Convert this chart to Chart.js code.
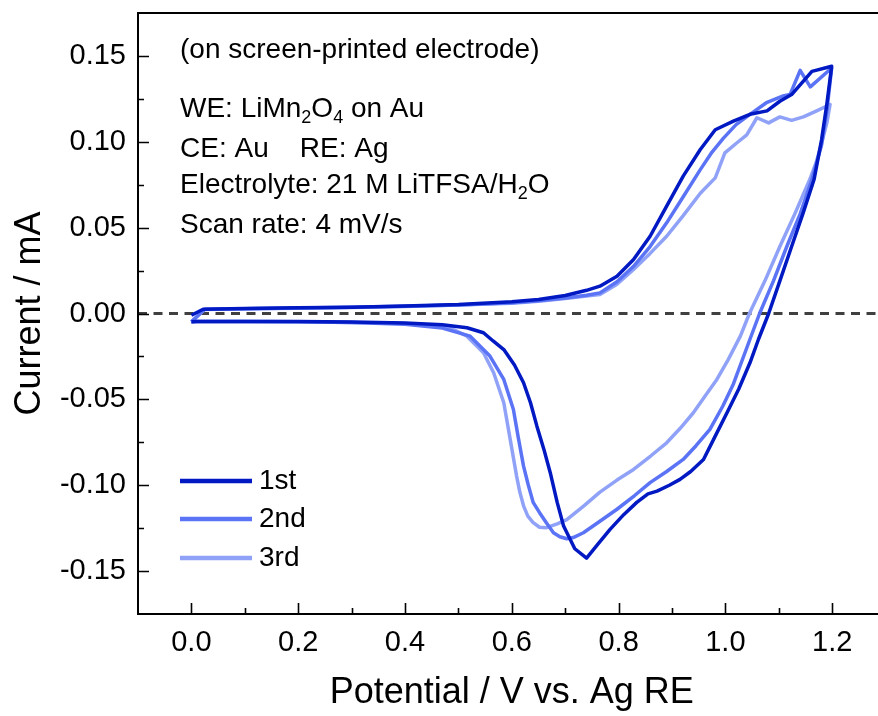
<!DOCTYPE html>
<html>
<head>
<meta charset="utf-8">
<script src="https://cdn.jsdelivr.net/npm/chart.js@4.4.1/dist/chart.umd.min.js"></script>
<style>
  html, body { margin: 0; padding: 0; background: #fff; overflow: hidden; }
  canvas { display: block; }
</style>
</head>
<body>
<canvas id="cv" width="900" height="716"></canvas>
<script>
const cycleLabels = ['1st', '2nd', '3rd'];
const cycleColors = ['#0019c2', '#5b73f5', '#8fa2f8'];

// each cycle: anodic sweep 0 -> 1.2 V, then cathodic back to 0 V
const cycle1Potential = [
  0.000, 0.022, 0.10, 0.20, 0.30, 0.40, 0.50, 0.60, 0.65, 0.70, 0.74, 0.765, 0.797, 0.828, 0.859,
  0.890, 0.921, 0.953, 0.981, 1.015, 1.046, 1.078, 1.102, 1.124, 1.162, 1.199,
  1.190, 1.180, 1.166, 1.145, 1.124, 1.102, 1.081, 1.062, 1.046, 1.025, 1.003, 0.980, 0.959,
  0.935, 0.915, 0.895, 0.872, 0.855, 0.834, 0.810, 0.784, 0.762, 0.740, 0.718, 0.697, 0.685,
  0.672, 0.660, 0.647, 0.635, 0.622, 0.605, 0.585, 0.565, 0.547, 0.516, 0.470, 0.400, 0.300,
  0.200, 0.100, 0.010, 0.000
];
const cycle1Current = [
  -0.0010, 0.0025, 0.0029, 0.0033, 0.0037, 0.0043, 0.0052, 0.0068, 0.0082, 0.0105, 0.0135, 0.0159, 0.0217, 0.0314, 0.0450,
  0.0625, 0.0800, 0.0955, 0.1070, 0.1120, 0.1160, 0.1180, 0.1236, 0.1275, 0.1410, 0.1440,
  0.1220, 0.1010, 0.0780, 0.0580, 0.0390, 0.0190, 0.0000, -0.0150, -0.0287, -0.0440, -0.0578, -0.0720, -0.0850,
  -0.0920, -0.0966, -0.1000, -0.1034, -0.1050, -0.1100, -0.1170, -0.1257, -0.1340, -0.1425, -0.1370, -0.1238, -0.1100,
  -0.0927, -0.0790, -0.0656, -0.0520, -0.0403, -0.0300, -0.0210, -0.0160, -0.0112, -0.0083, -0.0065, -0.0055, -0.0050,
  -0.0047, -0.0046, -0.0047, -0.0048
];

const cycle2Potential = [
  0.000, 0.025, 0.10, 0.20, 0.30, 0.40, 0.50, 0.60, 0.65, 0.70, 0.74, 0.765, 0.797, 0.828, 0.859,
  0.890, 0.921, 0.953, 0.975, 0.996, 1.020, 1.046, 1.078, 1.106, 1.121, 1.140, 1.159, 1.199,
  1.190, 1.180, 1.162, 1.140, 1.115, 1.090, 1.064, 1.046, 1.015, 0.995, 0.971, 0.945, 0.921,
  0.890, 0.859, 0.830, 0.797, 0.765, 0.734, 0.715, 0.703, 0.690, 0.678, 0.665, 0.652, 0.640,
  0.631, 0.622, 0.612, 0.603, 0.585, 0.559, 0.522, 0.470, 0.400, 0.300, 0.200, 0.100, 0.010, 0.000
];
const cycle2Current = [
  -0.0048, 0.0025, 0.0028, 0.0032, 0.0036, 0.0042, 0.0050, 0.0062, 0.0074, 0.0090, 0.0106, 0.0120, 0.0185, 0.0275, 0.0390,
  0.0528, 0.0680, 0.0838, 0.0940, 0.1020, 0.1100, 0.1160, 0.1230, 0.1265, 0.1275, 0.1416, 0.1320, 0.1430,
  0.1180, 0.0980, 0.0780, 0.0580, 0.0390, 0.0190, 0.0000, -0.0150, -0.0410, -0.0540, -0.0675, -0.0770, -0.0850,
  -0.0920, -0.0985, -0.1060, -0.1140, -0.1210, -0.1277, -0.1305, -0.1312, -0.1300, -0.1277, -0.1220, -0.1160, -0.1100,
  -0.1000, -0.0889, -0.0720, -0.0559, -0.0384, -0.0248, -0.0132, -0.0085, -0.0062, -0.0052, -0.0048, -0.0046, -0.0047, -0.0048
];

const cycle3Potential = [
  0.000, 0.025, 0.10, 0.20, 0.30, 0.40, 0.50, 0.60, 0.65, 0.70, 0.74, 0.765, 0.797, 0.828, 0.859,
  0.890, 0.921, 0.953, 0.981, 0.999, 1.020, 1.040, 1.059, 1.081, 1.102, 1.124, 1.146, 1.171, 1.196,
  1.190, 1.180, 1.170, 1.158, 1.130, 1.102, 1.074, 1.045, 1.028, 1.005, 0.984, 0.962, 0.940,
  0.915, 0.890, 0.860, 0.828, 0.797, 0.765, 0.735, 0.703, 0.685, 0.665, 0.652, 0.640, 0.630,
  0.622, 0.615, 0.609, 0.597, 0.585, 0.566, 0.547, 0.516, 0.484, 0.440, 0.380, 0.300, 0.200,
  0.100, 0.010, 0.000
];
const cycle3Current = [
  -0.0048, 0.0024, 0.0027, 0.0031, 0.0035, 0.0041, 0.0049, 0.0060, 0.0072, 0.0088, 0.0102, 0.0110, 0.0170, 0.0256, 0.0350,
  0.0450, 0.0570, 0.0700, 0.0790, 0.0935, 0.0990, 0.1040, 0.1140, 0.1110, 0.1145, 0.1125, 0.1145, 0.1180, 0.1217,
  0.1110, 0.0990, 0.0880, 0.0780, 0.0580, 0.0390, 0.0190, 0.0000, -0.0132, -0.0270, -0.0384, -0.0480, -0.0578,
  -0.0670, -0.0753, -0.0830, -0.0908, -0.0970, -0.1040, -0.1120, -0.1200, -0.1225, -0.1247, -0.1245, -0.1218, -0.1180,
  -0.1120, -0.1040, -0.0947, -0.0733, -0.0520, -0.0345, -0.0229, -0.0132, -0.0083, -0.0065, -0.0056, -0.0052, -0.0048,
  -0.0046, -0.0047, -0.0048
];

const notes = [
  '(on screen-printed electrode)',
  'WE: LiMn_2O_4 on Au',
  'CE: Au    RE: Ag',
  'Electrolyte: 21 M LiTFSA/H_2O',
  'Scan rate: 4 mV/s'
];

const FONT = "'Liberation Sans', Arial, Helvetica, sans-serif";

const toPoints = (xs, ys) => xs.map((v, i) => ({ x: v, y: ys[i] }));
const cycles = [
  toPoints(cycle1Potential, cycle1Current),
  toPoints(cycle2Potential, cycle2Current),
  toPoints(cycle3Potential, cycle3Current)
];

// text with "_x" as a subscript character
function drawRich(ctx, text, x, y, size) {
  const parts = text.split(/(_\d)/).filter(p => p.length);
  let cx = x;
  for (const p of parts) {
    if (p[0] === '_') {
      ctx.font = `${Math.round(size * 0.66)}px ${FONT}`;
      ctx.fillText(p[1], cx, y + size * 0.22);
      cx += ctx.measureText(p[1]).width;
    } else {
      ctx.font = `${size}px ${FONT}`;
      ctx.fillText(p, cx, y);
      cx += ctx.measureText(p).width;
    }
  }
}

const isMultiple = (v, step) => Math.abs(v / step - Math.round(v / step)) < 1e-6;

const decor = {
  id: 'decor',
  beforeDatasetsDraw(chart) {
    const { ctx, chartArea: a, scales: { y } } = chart;
    const y0 = y.getPixelForValue(0);
    ctx.save();
    ctx.strokeStyle = '#404040';
    ctx.lineWidth = 3;
    ctx.setLineDash([9, 6.5]);
    ctx.beginPath();
    ctx.moveTo(a.left, y0);
    ctx.lineTo(a.right, y0);
    ctx.stroke();
    ctx.restore();
  },
  afterDatasetsDraw(chart) {
    const { ctx, chartArea: a, scales: { x, y } } = chart;
    ctx.save();
    // frame: left, top, bottom (right edge lies outside the window)
    ctx.strokeStyle = '#000';
    ctx.lineWidth = 2;
    ctx.beginPath();
    ctx.moveTo(a.right + 5, a.top);
    ctx.lineTo(a.left, a.top);
    ctx.lineTo(a.left, a.bottom);
    ctx.lineTo(a.right + 5, a.bottom);
    ctx.stroke();

    // inward ticks
    ctx.lineWidth = 1.6;
    ctx.beginPath();
    for (const t of y.ticks) {
      if (t.value <= y.min + 1e-9 || t.value >= y.max - 1e-9) continue;
      const py = Math.round(y.getPixelForValue(t.value)) + 0.5;
      const len = isMultiple(t.value, 0.05) ? 11 : 6;
      ctx.moveTo(a.left, py);
      ctx.lineTo(a.left + len, py);
    }
    for (const t of x.ticks) {
      if (t.value <= x.min + 1e-9 || t.value >= x.max - 1e-9) continue;
      const px = Math.round(x.getPixelForValue(t.value)) + 0.5;
      const len = isMultiple(t.value, 0.2) ? 11 : 6;
      ctx.moveTo(px, a.bottom);
      ctx.lineTo(px, a.bottom - len);
    }
    ctx.stroke();

    // legend
    const legendY = [481, 519, 558];
    chart.data.datasets.forEach((ds, i) => {
      ctx.strokeStyle = ds.borderColor;
      ctx.lineWidth = 4.5;
      ctx.beginPath();
      ctx.moveTo(180, legendY[i]);
      ctx.lineTo(252, legendY[i]);
      ctx.stroke();
      ctx.fillStyle = '#000';
      ctx.font = `28px ${FONT}`;
      ctx.textBaseline = 'middle';
      ctx.textAlign = 'left';
      ctx.fillText(ds.label, 259, legendY[i]);
    });

    // annotation
    ctx.fillStyle = '#000';
    ctx.textBaseline = 'alphabetic';
    const baselines = [58, 117, 157, 193, 233];
    notes.forEach((line, i) => drawRich(ctx, line, 180, baselines[i], 28));
    ctx.restore();
  }
};

new Chart(document.getElementById('cv'), {
  type: 'scatter',
  data: {
    datasets: cycles.map((pts, i) => ({
      label: cycleLabels[i],
      data: pts,
      showLine: true,
      borderColor: cycleColors[i],
      backgroundColor: cycleColors[i],
      borderWidth: 3.5,
      pointRadius: 0,
      tension: 0,
      borderJoinStyle: 'round'
    }))
  },
  options: {
    responsive: false,
    animation: false,
    devicePixelRatio: 1,
    events: [],
    layout: { padding: { left: 0, top: 13, right: 14.4, bottom: 0 } },
    plugins: { legend: { display: false }, tooltip: { enabled: false } },
    scales: {
      x: {
        type: 'linear',
        min: -0.1,
        max: 1.3,
        grid: { display: false, drawTicks: false },
        border: { display: false },
        ticks: {
          stepSize: 0.1,
          autoSkip: false,
          maxRotation: 0,
          padding: 12,
          color: '#000',
          font: { family: FONT, size: 29 },
          callback: v => (isMultiple(v, 0.2) ? (Math.abs(v) < 1e-9 ? 0 : v).toFixed(1) : '')
        },
        title: {
          display: true,
          text: 'Potential / V vs. Ag RE',
          color: '#000',
          font: { family: FONT, size: 36 },
          padding: { top: 0, bottom: 1 }
        },
        afterFit: s => { s.height = 102; s.paddingLeft = 0; s.paddingRight = 0; }
      },
      y: {
        type: 'linear',
        min: -0.175,
        max: 0.175,
        grid: { display: false, drawTicks: false },
        border: { display: false },
        ticks: {
          stepSize: 0.025,
          autoSkip: false,
          padding: 12,
          color: '#000',
          font: { family: FONT, size: 29 },
          callback: v => (isMultiple(v, 0.05) ? (Math.abs(v) < 1e-9 ? 0 : v).toFixed(2) : '')
        },
        title: {
          display: true,
          text: 'Current / mA',
          color: '#000',
          font: { family: FONT, size: 36 },
          padding: { top: 8, bottom: 0 }
        },
        afterFit: s => { s.width = 138; s.paddingTop = 0; s.paddingBottom = 0; }
      }
    }
  },
  plugins: [decor]
});
</script>
</body>
</html>
